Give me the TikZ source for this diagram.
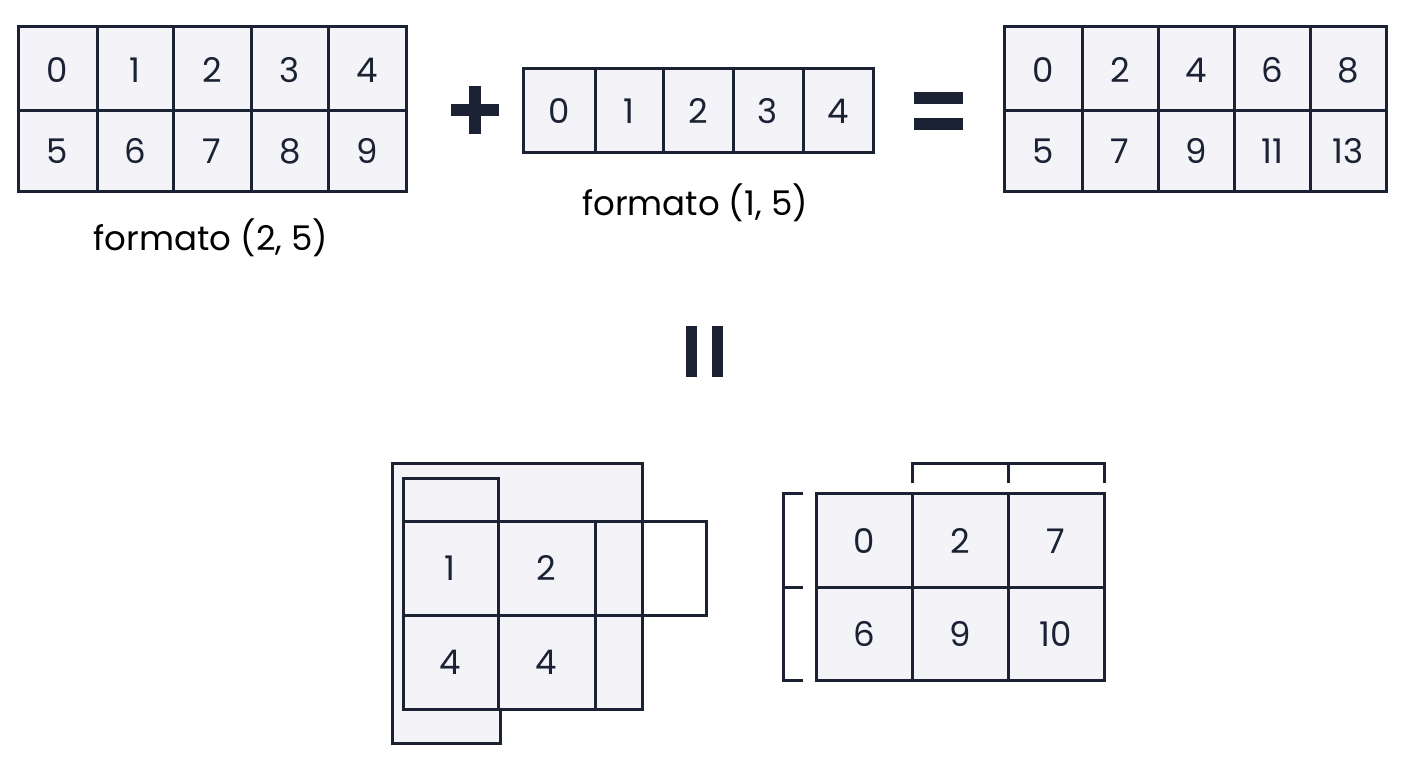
\documentclass[tikz,border=0pt]{standalone}
\usepackage{fontspec}
\setmainfont{Poppins}
\begin{document}
\begin{tikzpicture}[x=1pt,y=-1pt,line join=miter]
\definecolor{ink}{HTML}{1A2233}
\definecolor{cellbg}{HTML}{F3F3F8}
\tikzset{ln/.style={draw=ink,line width=3pt},
 cell/.style={ln,fill=cellbg},
 num/.style={font=\fontsize{34}{34}\selectfont,text=ink},
 lab/.style={font=\fontsize{34}{34}\selectfont,text=black},
 bar/.style={fill=ink,draw=none}}
\useasboundingbox (0,0) rectangle (1408,768);
% grid helper
\newcommand{\mygrid}[4]{% #1 xs list, #2 y0, #3 y1 ... drawn explicitly below
}
% top-left grid
\foreach \a/\b [count=\i] in {18/97,97/173,173/251,251/328,328/406}{
  \draw[cell] (\a,27) rectangle (\b,110);
  \draw[cell] (\a,110) rectangle (\b,191);}
\foreach \t [count=\i] in {0,1,2,3,4}{\pgfmathsetmacro\xx{{57,135,212,290,367}[\i-1]}
  \node[num] (tl\i) at (\xx,70) {\t};}
\foreach \t [count=\i] in {5,6,7,8,9}{\pgfmathsetmacro\xx{{57,135,212,290,367}[\i-1]}
  \node[num] (bl\i) at (\xx,151) {\t};}
\node[lab] (l1) at (211,238) {formato (2, 5)};
% plus
\fill[bar] (469,86) rectangle (481,134);
\fill[bar] (451,104) rectangle (499,116);
% middle grid
\foreach \a/\b in {523/595,595/663,663/733,733/803,803/873}
  \draw[cell] (\a,69) rectangle (\b,152);
\foreach \t [count=\i] in {0,1,2,3,4}{\pgfmathsetmacro\xx{{559,629,698,768,838}[\i-1]}
  \node[num] (m\i) at (\xx,111) {\t};}
\node[lab] (l2) at (695,203) {formato (1, 5)};
% equals
\fill[bar] (914,92) rectangle (963,104);
\fill[bar] (914,118) rectangle (963,130);
% right grid
\foreach \a/\b in {1004/1082,1082/1158,1158/1234,1234/1310,1310/1386}{
  \draw[cell] (\a,27) rectangle (\b,110);
  \draw[cell] (\a,110) rectangle (\b,191);}
\foreach \t [count=\i] in {0,2,4,6,8}{\pgfmathsetmacro\xx{{1043,1120,1196,1272,1348}[\i-1]}
  \node[num] (rt\i) at (\xx,70) {\t};}
\foreach \t [count=\i] in {5,7,9,11,13}{\pgfmathsetmacro\xx{{1043,1120,1196,1272,1348}[\i-1]}
  \node[num] (rb\i) at (\xx,151) {\t};}
% vertical equals
\fill[bar] (686,326) rectangle (697,377);
\fill[bar] (712,326) rectangle (723,377);
% bottom left
\draw[cell] (392,463) -- (642,463) -- (642,709) -- (500,709) -- (500,743) -- (392,743) -- cycle;
\draw[cell] (403,478) rectangle (498,709);
\draw[ln,fill=white] (642,521) rectangle (706,615);
\foreach \a/\b in {403/498,498/595,595/642}{
  \draw[cell] (\a,521) rectangle (\b,615);
  \draw[cell] (\a,615) rectangle (\b,709);}
\draw[ln] (403,478) rectangle (498,709);
\node[num] (b1) at (450,568) {1};
\node[num] (b2) at (546,568) {2};
\node[num] (b3) at (450,662) {4};
\node[num] (b4) at (546,662) {4};
% bottom right
\draw[ln] (912,483) -- (912,463) -- (1104,463) -- (1104,483);
\draw[ln] (1008,463) -- (1008,483);
\draw[ln] (803,493) -- (783,493) -- (783,680) -- (803,680);
\draw[ln] (783,587) -- (803,587);
\foreach \a/\b in {816/912,912/1008,1008/1104}{
  \draw[cell] (\a,493) rectangle (\b,587);
  \draw[cell] (\a,587) rectangle (\b,680);}
\node[num] (c1) at (864,541) {0};
\node[num] (c2) at (960,541) {2};
\node[num] (c3) at (1056,541) {7};
\node[num] (c4) at (864,634) {6};
\node[num] (c5) at (960,634) {9};
\node[num] (c6) at (1056,634) {10};
\end{tikzpicture}
\end{document}
